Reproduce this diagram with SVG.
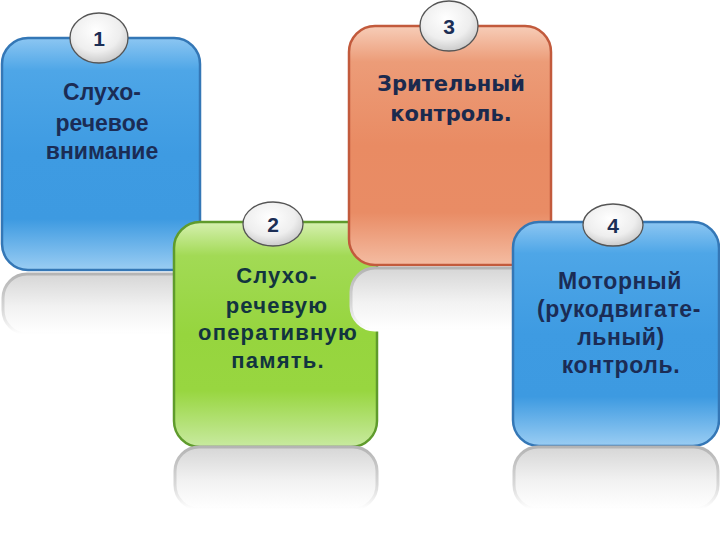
<svg xmlns="http://www.w3.org/2000/svg" width="720" height="540" viewBox="0 0 720 540">
<defs>
<linearGradient id="gBlue" x1="0" y1="0" x2="0" y2="1">
<stop offset="0" stop-color="#8cc6f2"/>
<stop offset="0.14" stop-color="#4ea6e7"/>
<stop offset="0.5" stop-color="#3e9be2"/>
<stop offset="0.78" stop-color="#3d9ae1"/>
<stop offset="1" stop-color="#9acdf3"/>
</linearGradient>
<linearGradient id="gOrange" x1="0" y1="0" x2="0" y2="1">
<stop offset="0" stop-color="#f7cdb8"/>
<stop offset="0.15" stop-color="#ec9c78"/>
<stop offset="0.5" stop-color="#e98b63"/>
<stop offset="0.78" stop-color="#e98c65"/>
<stop offset="1" stop-color="#f4bca2"/>
</linearGradient>
<linearGradient id="gGreen" x1="0" y1="0" x2="0" y2="1">
<stop offset="0" stop-color="#d6f0b0"/>
<stop offset="0.15" stop-color="#a2da55"/>
<stop offset="0.5" stop-color="#96d53e"/>
<stop offset="0.75" stop-color="#98d640"/>
<stop offset="1" stop-color="#c8eaa0"/>
</linearGradient>
<linearGradient id="gRefl" x1="0" y1="0" x2="0" y2="1">
<stop offset="0" stop-color="#d6d6d6"/>
<stop offset="0.55" stop-color="#f2f2f2"/>
<stop offset="1" stop-color="#ffffff"/>
</linearGradient>
<linearGradient id="gReflStroke" x1="0" y1="0" x2="0" y2="1">
<stop offset="0" stop-color="#b4b4b4"/>
<stop offset="0.6" stop-color="#d8d8d8"/>
<stop offset="1" stop-color="#ffffff"/>
</linearGradient>
<radialGradient id="gBadge" cx="0.45" cy="0.35" r="0.7">
<stop offset="0" stop-color="#ffffff"/>
<stop offset="0.6" stop-color="#eeeeee"/>
<stop offset="1" stop-color="#c4c4c4"/>
</radialGradient>
</defs>
<style>
.blue{fill:url(#gBlue);stroke:#3477b6;stroke-width:2.5}
.orange{fill:url(#gOrange);stroke:#c25a3c;stroke-width:2.5}
.green{fill:url(#gGreen);stroke:#5f9b2c;stroke-width:2.5}
.refl{fill:url(#gRefl);stroke:url(#gReflStroke);stroke-width:3}
.badge{fill:url(#gBadge);stroke:#555;stroke-width:1.3}
.num{font-family:"Liberation Sans",Arial,sans-serif;font-weight:bold;font-size:21px;fill:#1b2e55;text-anchor:middle}
.lbl{font-family:"Liberation Sans",Arial,sans-serif;font-weight:bold;font-size:23px;fill:#1b2c55;text-anchor:middle}
.lbl4{font-family:"Liberation Sans",Arial,sans-serif;font-weight:bold;font-size:23px;fill:#1b2c55;text-anchor:middle;letter-spacing:0.6px}
.lbl3{font-family:"DejaVu Sans",Verdana,sans-serif;font-weight:bold;font-size:21px;fill:#1b2a4e;text-anchor:middle}
.lbl2{font-family:"Liberation Sans",Arial,sans-serif;font-weight:bold;font-size:22px;fill:#12343f;text-anchor:middle;letter-spacing:1.2px}
</style>

<g id="node1">
<rect class="blue" x="2" y="38" width="198" height="232" rx="26"/>
<rect class="refl" x="3" y="274" width="196" height="60" rx="24"/>
<ellipse class="badge" cx="99" cy="38" rx="29" ry="25"/>
<text class="num" x="99" y="46">1</text>
<text class="lbl" x="102" y="100">Слухо-</text>
<text class="lbl" x="102" y="131">речевое</text>
<text class="lbl" x="102" y="159">внимание</text>
</g>

<g id="node2">
<rect class="green" x="174" y="222" width="203" height="225" rx="26"/>
<rect class="refl" x="175" y="447" width="202" height="62" rx="24"/>
<ellipse class="badge" cx="273" cy="224" rx="30" ry="22"/>
<text class="num" x="273" y="232">2</text>
<text class="lbl2" x="277" y="283">Слухо-</text>
<text class="lbl2" x="277" y="313">речевую</text>
<text class="lbl2" x="278" y="340">оперативную</text>
<text class="lbl2" x="278" y="368">память.</text>
</g>

<g id="node3">
<rect class="orange" x="349" y="26" width="202" height="239" rx="26"/>
<rect class="refl" x="351" y="268" width="198" height="62" rx="24"/>
<ellipse class="badge" cx="449" cy="26" rx="29" ry="25"/>
<text class="num" x="449" y="34">3</text>
<text class="lbl3" x="451" y="91">Зрительный</text>
<text class="lbl3" x="451" y="121">контроль.</text>
</g>

<g id="node4">
<rect class="blue" x="513" y="222" width="206" height="224" rx="26"/>
<rect class="refl" x="514" y="447" width="204" height="62" rx="24"/>
<ellipse class="badge" cx="613" cy="225" rx="30" ry="21"/>
<text class="num" x="613" y="233">4</text>
<text class="lbl4" x="620" y="289">Моторный</text>
<text class="lbl4" x="619" y="317">(рукодвигате-</text>
<text class="lbl4" x="621" y="345">льный)</text>
<text class="lbl4" x="621" y="373">контроль.</text>
</g>

<g id="connectors"/>
</svg>
